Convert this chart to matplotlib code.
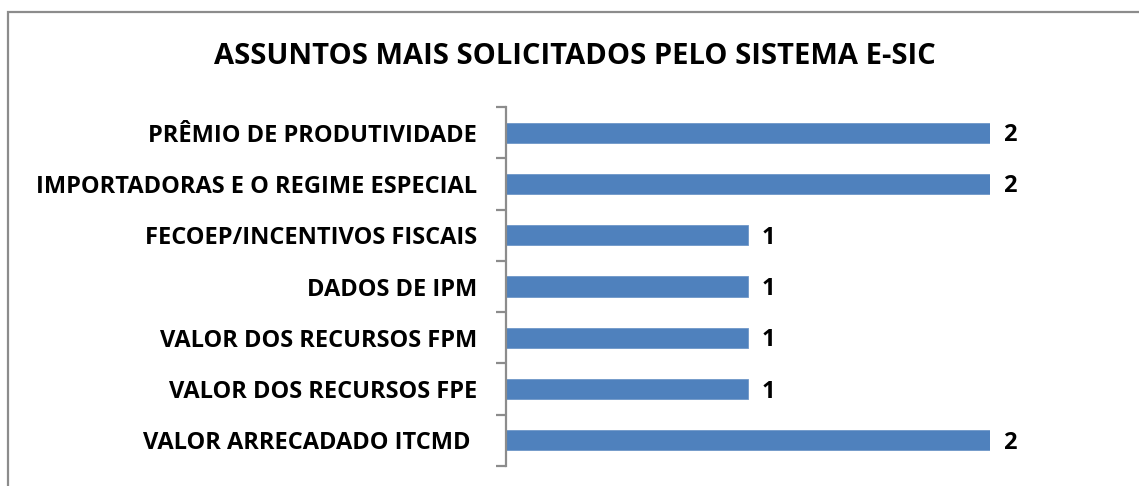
import matplotlib.pyplot as plt
from matplotlib.patches import Rectangle
import numpy as np

plt.rcParams['font.family'] = ['Open Sans', 'DejaVu Sans']

assuntos = ['PRÊMIO DE PRODUTIVIDADE',
            'IMPORTADORAS E O REGIME ESPECIAL',
            'FECOEP/INCENTIVOS FISCAIS',
            'DADOS DE IPM',
            'VALOR DOS RECURSOS FPM',
            'VALOR DOS RECURSOS FPE',
            'VALOR ARRECADADO ITCMD ']
pedidos = [2, 2, 1, 1, 1, 1, 2]

fig = plt.figure(figsize=(11.39, 4.86), dpi=100)
ax = fig.add_axes([506 / 1139, 20 / 486, 484 / 1139, 359 / 486])

# moldura do grafico
fig.patches.append(Rectangle((8 / 1139, -0.2), 1.2, 1.2 - 12 / 486,
                             transform=fig.transFigure, fill=False,
                             edgecolor='#8c8c8c', linewidth=1.6))

y = np.arange(len(assuntos))[::-1]
ax.barh(y, pedidos, height=0.39, color='#4f81bd', edgecolor='#6f97c8', linewidth=0.6)

for yi, v in zip(y, pedidos):
    ax.text(v + 0.055, yi - 0.05, str(v), va='center', ha='left',
            fontsize=17, fontweight='bold')

ax.set_xlim(0, 2)
ax.set_ylim(-0.5, len(assuntos) - 0.5)
ax.set_yticks(y)
ax.set_yticklabels(assuntos, fontsize=17, fontweight='bold')
ax.set_yticks(np.arange(-0.5, len(assuntos)), minor=True)
ax.tick_params(axis='y', which='major', length=0, pad=21)
ax.tick_params(axis='y', which='minor', length=7, width=1.6, color='#8c8c8c')
ax.set_xticks([])
for s in ['top', 'right', 'bottom']:
    ax.spines[s].set_visible(False)
ax.spines['left'].set_color('#8c8c8c')
ax.spines['left'].set_linewidth(1.6)

fig.text(575 / 1139, 1 - 56 / 486, 'ASSUNTOS MAIS SOLICITADOS PELO SISTEMA E-SIC',
         ha='center', va='center', fontsize=21, fontweight='bold')

fig.savefig('out.png', dpi=100)
